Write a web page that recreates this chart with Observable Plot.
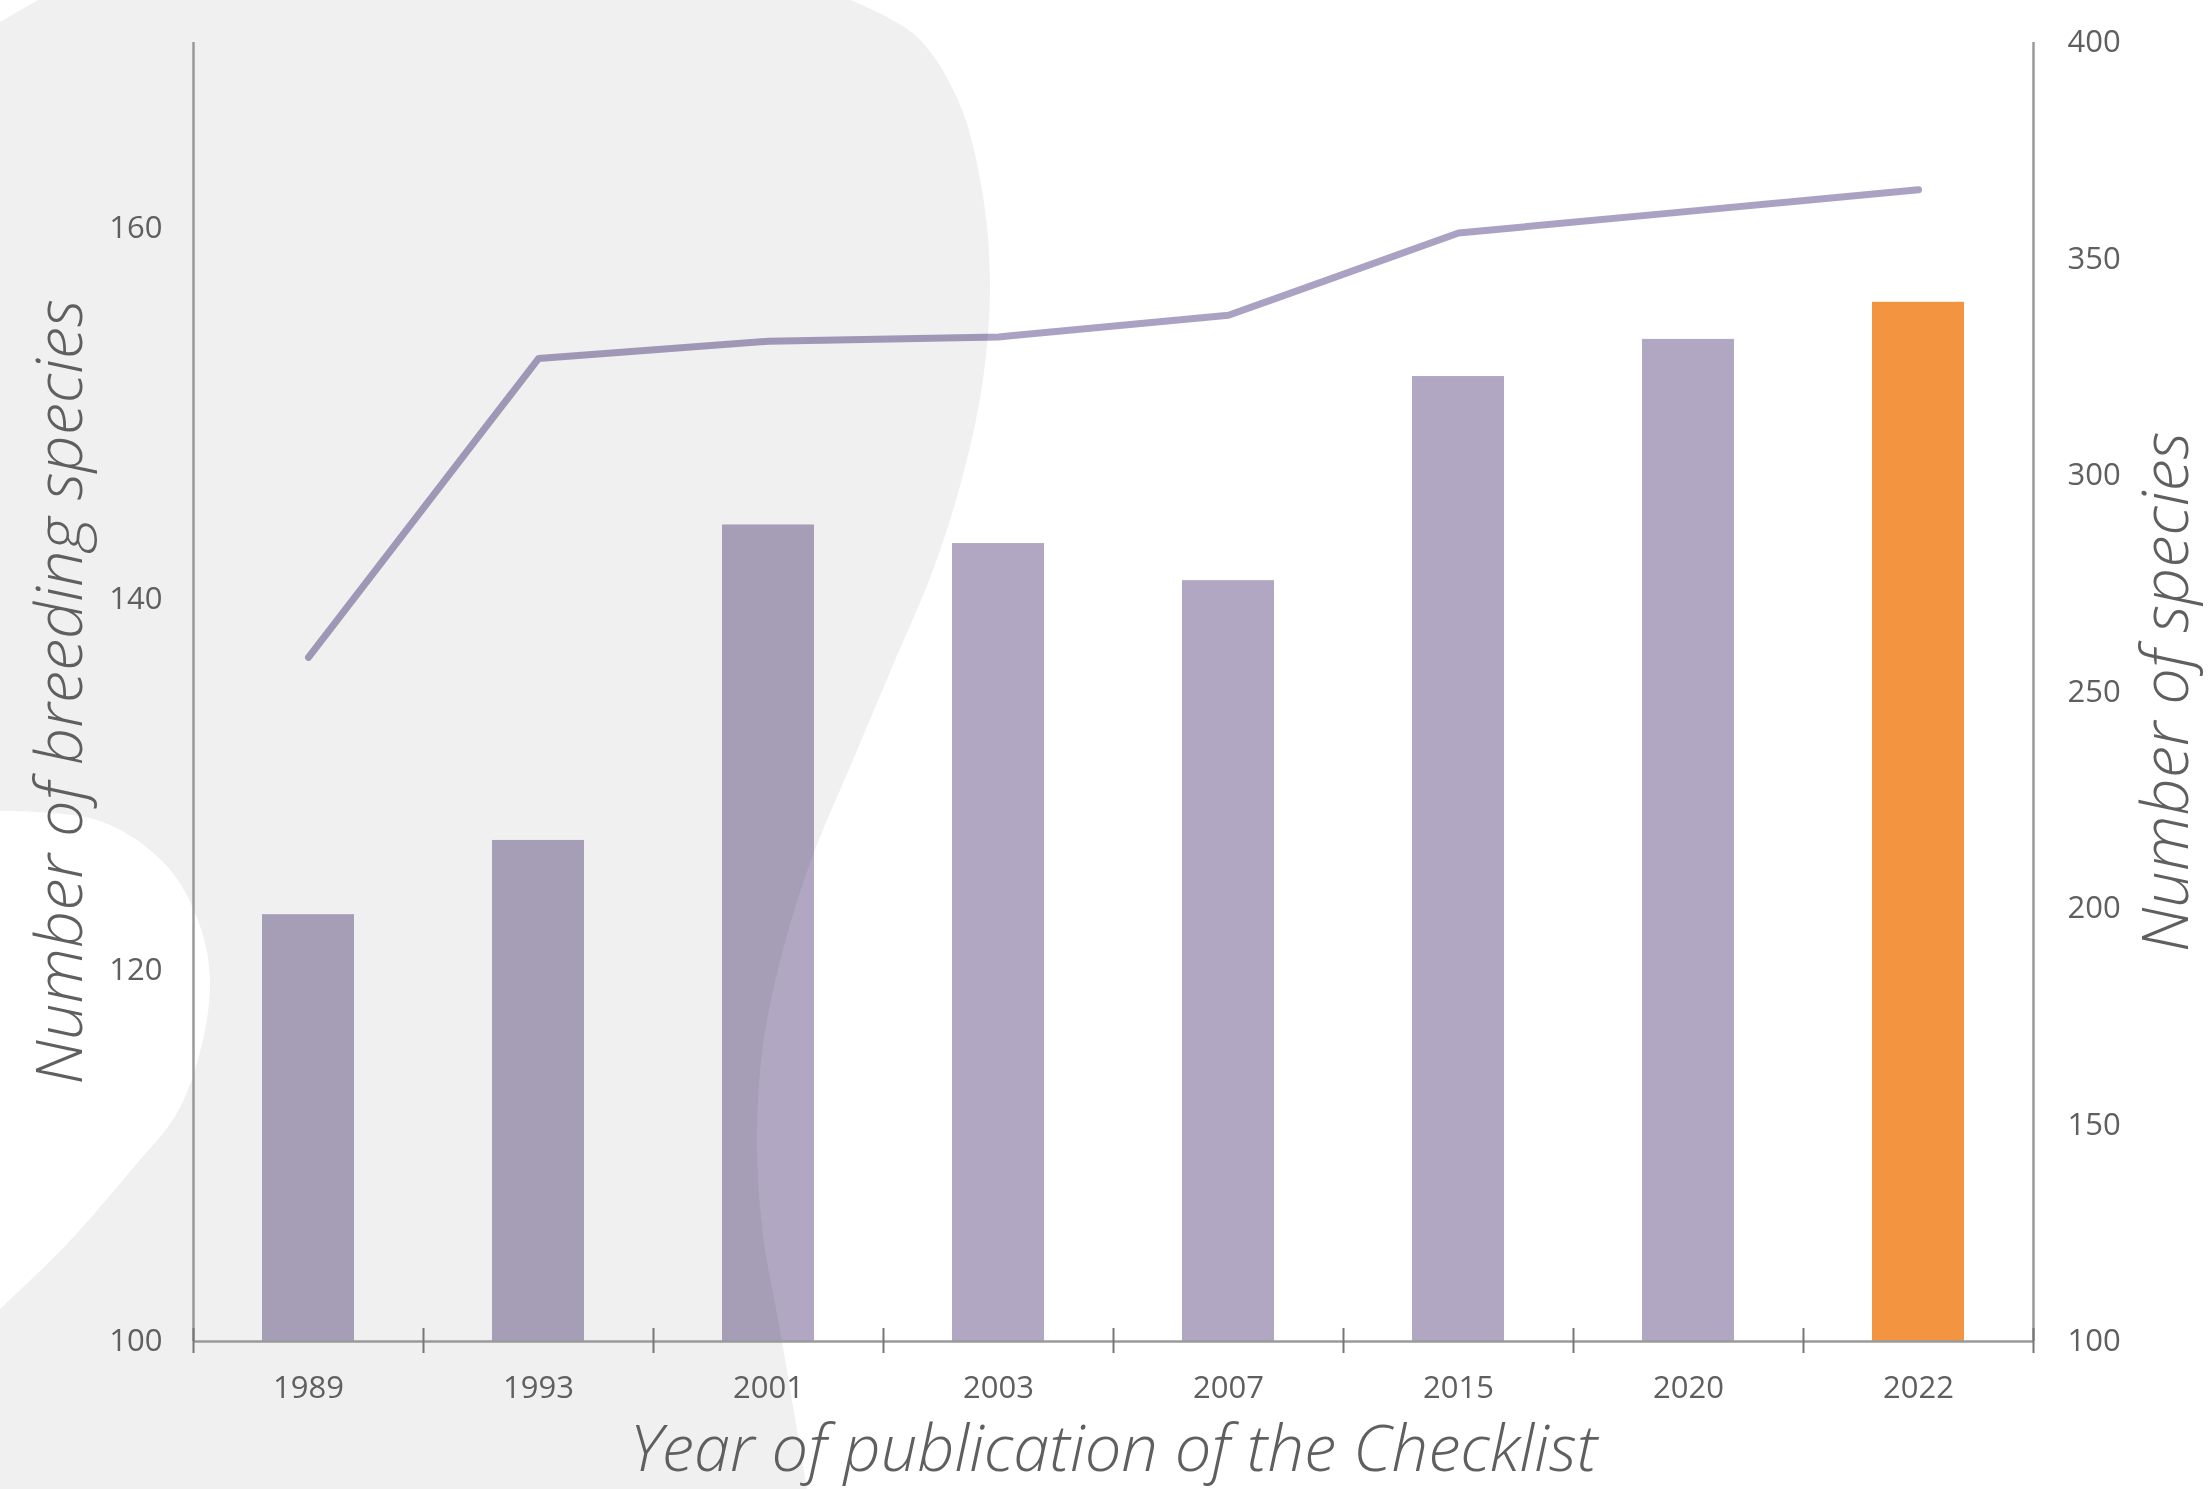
<!DOCTYPE html>
<html>
<head>
<meta charset="utf-8">
<script src="https://cdn.jsdelivr.net/npm/d3@7"></script>
<script src="https://cdn.jsdelivr.net/npm/@observablehq/plot@0.6"></script>
<style>
  html, body { margin: 0; padding: 0; background: #ffffff; overflow: hidden; }
  #chart svg { display: block; }
</style>
</head>
<body>
<div id="chart"></div>
<script>
// ---- data ----
const years = ["1989", "1993", "2001", "2003", "2007", "2015", "2020", "2022"];
const breedingSpecies = [123, 127, 144, 143, 141, 152, 154, 156];   // left axis (bars)
const totalSpecies = [258, 327, 331, 332, 337, 356, 361, 366];      // right axis (line)
const leftTicks = [100, 120, 140, 160];
const rightTicks = [100, 150, 200, 250, 300, 350, 400];
const highlightYear = "2022";

const leftDomain = [100, 170];
const rightDomain = [100, 400];

// ---- layout / style ----
const W = 2209, H = 1489;
const mL = 193, mR = 176, mT = 42, mB = 148;
const step = (W - mL - mR) / years.length;
const purple = "#b1a7c3";
const orange = "#f39441";
const lineColor = "#aba1c2";
const axisColor = "#9a9a9a";
const textColor = "#5f5f5f";
const tickFont = "'Open Sans', 'Liberation Sans', sans-serif";
const titleFont = "'Open Sans', 'Liberation Sans', sans-serif";
const titleSize = 65;

const toLeft = v => leftDomain[0] + (v - rightDomain[0]) * (leftDomain[1] - leftDomain[0]) / (rightDomain[1] - rightDomain[0]);
const fromLeft = v => rightDomain[0] + (v - leftDomain[0]) * (rightDomain[1] - rightDomain[0]) / (leftDomain[1] - leftDomain[0]);

const data = years.map((year, i) => ({year, breeding: breedingSpecies[i], total: totalSpecies[i]}));

const chart = Plot.plot({
  width: W,
  height: H,
  marginLeft: mL,
  marginRight: mR,
  marginTop: mT,
  marginBottom: mB,
  style: {background: "transparent", color: textColor},
  x: {type: "band", domain: years, paddingInner: 0.6, paddingOuter: 0.3, axis: null},
  y: {domain: leftDomain, axis: null},
  marks: [
    Plot.barY(data, {
      x: "year", y1: leftDomain[0], y2: "breeding",
      fill: d => d.year === highlightYear ? orange : purple,
      mixBlendMode: "multiply"
    }),
    Plot.lineY(data, {
      x: "year", y: d => toLeft(d.total),
      stroke: lineColor, strokeWidth: 7, strokeLinecap: "round", strokeLinejoin: "round",
      mixBlendMode: "multiply"
    }),
    // axis lines
    Plot.ruleY([leftDomain[0]], {stroke: axisColor, strokeWidth: 2.5}),
    Plot.ruleX([years[0]], {dx: -step / 2, y1: leftDomain[0], y2: leftDomain[1], stroke: axisColor, strokeWidth: 2.5}),
    Plot.ruleX([years[years.length - 1]], {dx: step / 2, y1: leftDomain[0], y2: leftDomain[1], stroke: axisColor, strokeWidth: 2.5}),
    // x tick marks at band boundaries
    Plot.ruleX(years, {dx: -step / 2, y1: leftDomain[0], y2: leftDomain[0], insetTop: -13, insetBottom: -12, stroke: "#777", strokeWidth: 2}),
    Plot.ruleX([years[years.length - 1]], {dx: step / 2, y1: leftDomain[0], y2: leftDomain[0], insetTop: -13, insetBottom: -12, stroke: "#777", strokeWidth: 2}),
    // axes
    Plot.axisX({tickSize: 0, tickPadding: 34, fontSize: 31, fontFamily: tickFont, fill: textColor, label: null}),
    Plot.axisY({ticks: leftTicks, anchor: "left", tickSize: 0, tickPadding: 31, fontSize: 31, fontFamily: tickFont, fill: textColor, label: null}),
    Plot.axisY({ticks: rightTicks.map(toLeft), tickFormat: d => String(Math.round(fromLeft(d))), anchor: "right", tickSize: 0, tickPadding: 34, fontSize: 31, fontFamily: tickFont, fill: textColor, label: null}),
    // axis titles
    Plot.text(["Number of breeding species"], {frameAnchor: "left", dx: -132, rotate: -90, textAnchor: "middle", lineAnchor: "middle", fontSize: titleSize, fontStyle: "italic", fontWeight: 300, fontFamily: titleFont, fill: textColor}),
    Plot.text(["Number of species"], {frameAnchor: "right", dx: 134, rotate: -90, textAnchor: "middle", lineAnchor: "middle", fontSize: titleSize, fontStyle: "italic", fontWeight: 300, fontFamily: titleFont, fill: textColor}),
    Plot.text(["Year of publication of the Checklist"], {frameAnchor: "bottom", dy: 109, textAnchor: "middle", lineAnchor: "middle", fontSize: titleSize, fontStyle: "italic", fontWeight: 300, fontFamily: titleFont, fill: textColor})
  ]
});

// decorative background shape
const curve = d3.line().curve(d3.curveCatmullRom);
const rightEdge = [[850,0],[915,35],[958,100],[982,190],[990,285],[983,380],[963,475],[933,570],[893,665],[853,760],[813,855],[783,950],[763,1045],[757,1140],[763,1235],[780,1330],[807,1489]];
const bulge = [[0,1309],[67,1244],[133,1168],[177,1113],[200,1052],[210,982],[200,926],[167,866],[100,821],[0,811]];
const pathD = "M38,0" + curve(rightEdge).replace(/^M/, "L") + "L0,1489" + curve(bulge).replace(/^M/, "L") + "L0,22Z";
const ns = "http://www.w3.org/2000/svg";
const bg = document.createElementNS(ns, "rect");
bg.setAttribute("width", W); bg.setAttribute("height", H); bg.setAttribute("fill", "#ffffff");
const blob = document.createElementNS(ns, "path");
blob.setAttribute("d", pathD);
blob.setAttribute("fill", "#eff0ef");
const firstMark = chart.querySelector("g, rect, path, line, text");
chart.insertBefore(blob, firstMark);
chart.insertBefore(bg, blob);

document.getElementById("chart").appendChild(chart);
</script>
</body>
</html>
